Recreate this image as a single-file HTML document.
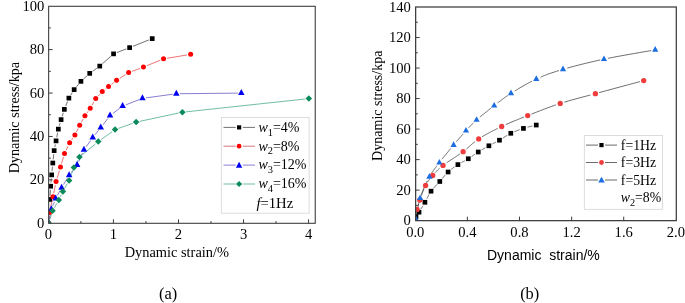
<!DOCTYPE html><html><head><meta charset="utf-8"><title>figure</title>
<style>html,body{margin:0;padding:0;background:#fff;}svg{display:block;filter:blur(0.3px);}text{font-family:"Liberation Serif", serif;fill:#000;}</style></head><body>
<svg width="685" height="303" viewBox="0 0 685 303">
<rect width="685" height="303" fill="#fff"/>
<defs><clipPath id="ca"><rect x="48.65" y="6.3" width="266.6" height="217"/></clipPath>
<clipPath id="cb"><rect x="415.65" y="7" width="260.65" height="213.65"/></clipPath></defs>
<g clip-path="url(#ca)">
<path d="M50.03 195.78 L50.41 189.81 M50.96 182.63 L51.33 178.46 M52 171.29 L52.46 166.6 M53.2 159.44 L53.77 154.2 M54.85 147.09 L55.38 144.4 M56.75 137.33 L57.65 132.66 M59.33 125.66 L60.09 123.08 M62.18 116.19 L63.26 112.8 M65.7 106.03 L67.53 101.46 M70.77 95.06 L72.25 92.68 M76.43 86.84 L78.64 84.15 M83.59 78.95 L87.05 75.79 M92.63 71.26 L96.84 68.23 M102.45 63.73 L110.87 56.26 M116.92 52.57 L126.28 48.92 M132.98 46.29 L148.89 39.95" fill="none" stroke="#111" stroke-width="0.6"/>
<path d="M48.95 219.41 L49.19 216.11 M50.23 209.01 L52.17 200.38 M53.68 193.34 L55.35 185.15 M57.12 178.18 L59.44 170.56 M61.51 163.67 L63.48 157.07 M66.05 150.37 L68.08 146.12 M71.65 139.89 L72.87 138.1 M76.48 131.89 L78.09 128.6 M81.42 122.22 L83.2 119.02 M87.01 112.92 L88.14 111.32 M91.99 105.24 L93.96 101.75 M98.19 95.99 L99.81 94.25 M105.08 89.38 L105.73 88.86 M111.38 84.41 L113.74 82.58 M119.61 78.42 L125.6 74.57 M132 71.37 L140.07 68.37 M146.77 65.75 L160.2 60.24 M167.08 58.28 L187.09 54.96" fill="none" stroke="#e01818" stroke-width="0.6"/>
<path d="M49.37 219.46 L50.63 212.76 M52.67 205.89 L54.3 201.95 M57.39 195.46 L59.87 190.88 M63.47 184.65 L67.25 178.44 M71.33 172.53 L74.95 167.86 M78.63 161.73 L82.47 153.11 M86.04 146.9 L90.62 140.54 M94.98 134.81 L98.51 130.43 M102.96 124.77 L107.85 118.47 M112.92 113.45 L119.73 108.29 M125.96 104.81 L139.09 99.68 M146.01 97.88 L172.77 94.21 M179.93 93.69 L237.7 93.15" fill="none" stroke="#3428b0" stroke-width="0.6"/>
<path d="M49.79 219.57 L51.46 214.3 M54.36 207.75 L57.03 203.14 M60.37 196.77 L61.31 194.77 M64.63 188.39 L67.34 183.65 M70.37 177.14 L72.65 171 M75.57 164.43 L77.74 160.31 M82.2 154.83 L95.47 143.91 M101.18 139.53 L112.14 131.71 M118.46 128.41 L132.77 123.33 M139.68 121.37 L178.84 112.97 M185.94 111.84 L305.26 99" fill="none" stroke="#10906a" stroke-width="0.6"/>
<rect x="47.44" y="197.02" width="4.7" height="4.7" fill="#000"/>
<rect x="48.3" y="183.87" width="4.7" height="4.7" fill="#000"/>
<rect x="49.3" y="172.52" width="4.7" height="4.7" fill="#000"/>
<rect x="50.45" y="160.67" width="4.7" height="4.7" fill="#000"/>
<rect x="51.81" y="148.27" width="4.7" height="4.7" fill="#000"/>
<rect x="53.72" y="138.52" width="4.7" height="4.7" fill="#000"/>
<rect x="55.98" y="126.77" width="4.7" height="4.7" fill="#000"/>
<rect x="58.74" y="117.27" width="4.7" height="4.7" fill="#000"/>
<rect x="62" y="107.02" width="4.7" height="4.7" fill="#000"/>
<rect x="66.52" y="95.77" width="4.7" height="4.7" fill="#000"/>
<rect x="71.8" y="87.27" width="4.7" height="4.7" fill="#000"/>
<rect x="78.58" y="79.02" width="4.7" height="4.7" fill="#000"/>
<rect x="87.36" y="71.02" width="4.7" height="4.7" fill="#000"/>
<rect x="97.41" y="63.77" width="4.7" height="4.7" fill="#000"/>
<rect x="111.21" y="51.52" width="4.7" height="4.7" fill="#000"/>
<rect x="127.28" y="45.27" width="4.7" height="4.7" fill="#000"/>
<rect x="149.88" y="36.27" width="4.7" height="4.7" fill="#000"/>
<circle cx="48.7" cy="223" r="2.5" fill="#ff0000"/>
<circle cx="49.44" cy="212.52" r="2.5" fill="#ff0000"/>
<circle cx="52.96" cy="196.87" r="2.5" fill="#ff0000"/>
<circle cx="56.07" cy="181.62" r="2.5" fill="#ff0000"/>
<circle cx="60.49" cy="167.12" r="2.5" fill="#ff0000"/>
<circle cx="64.5" cy="153.62" r="2.5" fill="#ff0000"/>
<circle cx="69.63" cy="142.87" r="2.5" fill="#ff0000"/>
<circle cx="74.9" cy="135.12" r="2.5" fill="#ff0000"/>
<circle cx="79.67" cy="125.37" r="2.5" fill="#ff0000"/>
<circle cx="84.94" cy="115.87" r="2.5" fill="#ff0000"/>
<circle cx="90.22" cy="108.37" r="2.5" fill="#ff0000"/>
<circle cx="95.74" cy="98.62" r="2.5" fill="#ff0000"/>
<circle cx="102.27" cy="91.62" r="2.5" fill="#ff0000"/>
<circle cx="108.54" cy="86.62" r="2.5" fill="#ff0000"/>
<circle cx="116.58" cy="80.37" r="2.5" fill="#ff0000"/>
<circle cx="128.63" cy="72.62" r="2.5" fill="#ff0000"/>
<circle cx="143.44" cy="67.12" r="2.5" fill="#ff0000"/>
<circle cx="163.53" cy="58.87" r="2.5" fill="#ff0000"/>
<circle cx="190.64" cy="54.37" r="2.5" fill="#ff0000"/>
<path d="M48.7 219 L51.95 225 L45.45 225 Z" fill="#0000f0"/>
<path d="M51.3 205.22 L54.55 211.22 L48.05 211.22 Z" fill="#0000f0"/>
<path d="M55.67 194.62 L58.92 200.62 L52.42 200.62 Z" fill="#0000f0"/>
<path d="M61.59 183.72 L64.84 189.72 L58.34 189.72 Z" fill="#0000f0"/>
<path d="M69.12 171.37 L72.37 177.37 L65.87 177.37 Z" fill="#0000f0"/>
<path d="M77.16 161.02 L80.41 167.02 L73.91 167.02 Z" fill="#0000f0"/>
<path d="M83.94 145.82 L87.19 151.82 L80.69 151.82 Z" fill="#0000f0"/>
<path d="M92.73 133.62 L95.98 139.62 L89.48 139.62 Z" fill="#0000f0"/>
<path d="M100.76 123.62 L104.01 129.62 L97.51 129.62 Z" fill="#0000f0"/>
<path d="M110.05 111.62 L113.3 117.62 L106.8 117.62 Z" fill="#0000f0"/>
<path d="M122.6 102.12 L125.85 108.12 L119.35 108.12 Z" fill="#0000f0"/>
<path d="M142.44 94.37 L145.69 100.37 L139.19 100.37 Z" fill="#0000f0"/>
<path d="M176.33 89.72 L179.58 95.72 L173.08 95.72 Z" fill="#0000f0"/>
<path d="M241.3 89.12 L244.55 95.12 L238.05 95.12 Z" fill="#0000f0"/>
<path d="M48.7 219.75 L51.95 223 L48.7 226.25 L45.45 223 Z" fill="#088a5a"/>
<path d="M52.55 207.62 L55.8 210.87 L52.55 214.12 L49.3 210.87 Z" fill="#088a5a"/>
<path d="M58.83 196.77 L62.08 200.02 L58.83 203.27 L55.58 200.02 Z" fill="#088a5a"/>
<path d="M62.85 188.27 L66.1 191.52 L62.85 194.77 L59.6 191.52 Z" fill="#088a5a"/>
<path d="M69.12 177.27 L72.37 180.52 L69.12 183.77 L65.87 180.52 Z" fill="#088a5a"/>
<path d="M73.9 164.37 L77.15 167.62 L73.9 170.87 L70.65 167.62 Z" fill="#088a5a"/>
<path d="M79.42 153.87 L82.67 157.12 L79.42 160.37 L76.17 157.12 Z" fill="#088a5a"/>
<path d="M98.25 138.37 L101.5 141.62 L98.25 144.87 L95 141.62 Z" fill="#088a5a"/>
<path d="M115.07 126.37 L118.32 129.62 L115.07 132.87 L111.82 129.62 Z" fill="#088a5a"/>
<path d="M136.16 118.87 L139.41 122.12 L136.16 125.37 L132.91 122.12 Z" fill="#088a5a"/>
<path d="M182.36 108.97 L185.61 112.22 L182.36 115.47 L179.11 112.22 Z" fill="#088a5a"/>
<path d="M308.84 95.37 L312.09 98.62 L308.84 101.87 L305.59 98.62 Z" fill="#088a5a"/>
</g>
<rect x="221.3" y="117.5" width="87.8" height="95.7" fill="#fff" stroke="#d4d4d4" stroke-width="0.8"/>
<path d="M223.5 127.4 H235.7 M242.8 127.4 H255" stroke="#111" stroke-width="0.6"/>
<rect x="237" y="125.3" width="4.2" height="4.2" fill="#000"/>
<text x="258.4" y="131.7" font-size="14"><tspan font-style="italic">w</tspan><tspan font-size="10.4" dy="3.9">1</tspan><tspan dy="-3.9">=4%</tspan></text>
<path d="M223.5 146.2 H235.7 M242.8 146.2 H255" stroke="#c01828" stroke-width="0.6"/>
<circle cx="239.1" cy="146.2" r="2.35" fill="#ff0000"/>
<text x="258.4" y="150.5" font-size="14"><tspan font-style="italic">w</tspan><tspan font-size="10.4" dy="3.9">2</tspan><tspan dy="-3.9">=8%</tspan></text>
<path d="M223.5 165.1 H235.7 M242.8 165.1 H255" stroke="#3428b0" stroke-width="0.6"/>
<path d="M239.1 161.76 L242.3 167.66 L235.9 167.66 Z" fill="#0000f0"/>
<text x="258.4" y="169.4" font-size="14"><tspan font-style="italic">w</tspan><tspan font-size="10.4" dy="3.9">3</tspan><tspan dy="-3.9">=12%</tspan></text>
<path d="M223.5 184 H235.7 M242.8 184 H255" stroke="#10906a" stroke-width="0.6"/>
<path d="M239.1 180.9 L242.2 184 L239.1 187.1 L236 184 Z" fill="#088a5a"/>
<text x="258.4" y="188.3" font-size="14"><tspan font-style="italic">w</tspan><tspan font-size="10.4" dy="3.9">4</tspan><tspan dy="-3.9">=16%</tspan></text>
<text x="256.4" y="207.6" font-size="14.7"><tspan font-style="italic">f</tspan>=1Hz</text>
<rect x="48.65" y="6.3" width="266.6" height="217" fill="none" stroke="#3c3c3c" stroke-width="1.08"/>
<path d="M80.88 223.3 v-2.2 M113.41 223.3 v-4 M145.94 223.3 v-2.2 M178.47 223.3 v-4 M211 223.3 v-2.2 M243.53 223.3 v-4 M276.06 223.3 v-2.2 M308.59 223.3 v-4 M48.65 201.59 h2.2 M48.65 179.88 h4 M48.65 158.17 h2.2 M48.65 136.46 h4 M48.65 114.75 h2.2 M48.65 93.04 h4 M48.65 71.33 h2.2 M48.65 49.62 h4 M48.65 27.91 h2.2" stroke="#3c3c3c" stroke-width="1" fill="none"/>
<text x="48.35" y="239.2" font-size="14.6" text-anchor="middle">0</text>
<text x="113.41" y="239.2" font-size="14.6" text-anchor="middle">1</text>
<text x="178.47" y="239.2" font-size="14.6" text-anchor="middle">2</text>
<text x="243.53" y="239.2" font-size="14.6" text-anchor="middle">3</text>
<text x="308.59" y="239.2" font-size="14.6" text-anchor="middle">4</text>
<text x="44.4" y="227.8" font-size="14.6" text-anchor="end">0</text>
<text x="44.4" y="184.38" font-size="14.6" text-anchor="end">20</text>
<text x="44.4" y="140.96" font-size="14.6" text-anchor="end">40</text>
<text x="44.4" y="97.54" font-size="14.6" text-anchor="end">60</text>
<text x="44.4" y="54.12" font-size="14.6" text-anchor="end">80</text>
<text x="44.4" y="10.7" font-size="14.6" text-anchor="end">100</text>
<text x="176.8" y="256.6" font-size="14.4" text-anchor="middle">Dynamic strain/%</text>
<text transform="translate(18.8 117.6) rotate(-90)" font-size="14.2" text-anchor="middle">Dynamic stress/kpa</text>
<text x="168.1" y="299.1" font-size="16.4" text-anchor="middle">(a)</text>
<g clip-path="url(#cb)">
<path d="M420.99 208.94 L421.24 208.53 L421.49 208.1 L421.75 207.67 L422.01 207.23 L422.28 206.79 L422.54 206.34 L422.81 205.89 M426.84 198.64 L427.07 198.16 L427.31 197.69 L427.55 197.21 L427.8 196.74 L428.04 196.26 L428.29 195.79 L428.54 195.31 L428.8 194.84 L429.06 194.37 M433.43 188.26 L433.79 187.86 L434.16 187.45 L434.53 187.05 L434.91 186.65 L435.29 186.25 L435.67 185.85 L436.05 185.46 L436.44 185.06 L436.82 184.67 L437.2 184.27 M442.21 178.65 L442.54 178.24 L442.88 177.83 L443.21 177.42 L443.55 177.01 L443.88 176.61 L444.22 176.2 L444.56 175.8 L444.9 175.4 L445.24 175 M451.23 169.32 L451.64 169 L452.05 168.69 L452.46 168.38 L452.87 168.07 L453.28 167.77 L453.7 167.47 L454.12 167.17 L454.53 166.87 M461.34 162.57 L461.78 162.33 L462.21 162.1 L462.65 161.87 L463.09 161.63 L463.53 161.4 L463.97 161.17 L464.41 160.94 L464.84 160.71 M471.62 156.55 L472.03 156.26 L472.44 155.97 L472.85 155.69 L473.26 155.4 L473.67 155.11 L474.08 154.82 L474.49 154.53 L474.9 154.24 M481.75 149.87 L482.2 149.61 L482.64 149.35 L483.09 149.09 L483.54 148.83 L483.99 148.57 L484.43 148.31 L484.88 148.06 L485.33 147.8 M492.39 143.94 L492.83 143.71 L493.26 143.49 L493.7 143.27 L494.13 143.04 L494.57 142.82 L495 142.6 L495.44 142.37 L495.88 142.14 M502.66 138.22 L503.13 137.92 L503.59 137.62 L504.06 137.32 L504.52 137.01 L504.99 136.71 L505.46 136.4 L505.94 136.1 L506.41 135.8 L506.89 135.5 L507.37 135.21 M514.39 131.68 L514.91 131.46 L515.44 131.25 L515.97 131.04 L516.5 130.83 L517.03 130.63 L517.57 130.43 L518.1 130.23 L518.64 130.04 L519.17 129.84 L519.71 129.66 M527.56 127.21 L528.18 127.04 L528.8 126.88 L529.42 126.72 L530.03 126.57 L530.64 126.42 L531.24 126.27 L531.82 126.13 L532.38 125.99" fill="none" stroke="#444" stroke-width="0.8"/>
<path d="M418.09 205.61 L418.2 205.19 L418.32 204.75 L418.44 204.31 L418.57 203.86 M421.23 196.01 L421.46 195.38 L421.69 194.74 L421.93 194.09 L422.18 193.44 L422.43 192.79 L422.68 192.13 L422.93 191.48 L423.19 190.83 L423.46 190.19 L423.72 189.55 L423.99 188.93 M427.48 182.26 L427.75 181.84 L428.03 181.42 L428.3 181.02 L428.58 180.62 L428.87 180.22 L429.16 179.83 L429.45 179.45 L429.75 179.06 L430.05 178.67 M435.17 172.67 L435.53 172.27 L435.9 171.88 L436.27 171.48 L436.65 171.08 L437.04 170.68 L437.44 170.28 L437.85 169.87 L438.28 169.46 L438.72 169.04 L439.18 168.61 L439.66 168.18 M446.63 162.77 L447.44 162.21 L448.28 161.64 L449.14 161.07 L450.02 160.49 L450.91 159.9 L451.81 159.31 L452.72 158.72 L453.63 158.12 L454.55 157.53 L455.46 156.93 L456.37 156.33 L457.27 155.74 L458.16 155.15 L459.04 154.56 L459.9 153.97 M466.52 148.97 L467.14 148.43 L467.76 147.89 L468.36 147.35 L468.95 146.82 L469.54 146.28 L470.13 145.75 L470.72 145.22 L471.31 144.69 L471.9 144.16 L472.51 143.63 L473.12 143.1 L473.74 142.58 L474.39 142.05 L475.04 141.53 M482.07 136.79 L482.96 136.26 L483.86 135.74 L484.78 135.21 L485.71 134.68 L486.65 134.15 L487.61 133.63 L488.57 133.1 L489.55 132.58 L490.54 132.06 L491.53 131.54 L492.53 131.02 L493.54 130.51 L494.55 129.99 L495.57 129.49 L496.59 128.98 L497.61 128.48 M505.78 124.61 L506.81 124.15 L507.84 123.7 L508.87 123.25 L509.9 122.8 L510.94 122.36 L511.99 121.92 L513.05 121.47 L514.11 121.03 L515.18 120.59 L516.25 120.15 L517.34 119.71 L518.44 119.27 L519.55 118.83 L520.67 118.38 L521.81 117.93 L522.96 117.47 L524.12 117.01 M531.43 114.12 L532.71 113.62 L534 113.11 L535.3 112.6 L536.62 112.08 L537.95 111.56 L539.29 111.03 L540.64 110.51 L542.01 109.98 L543.38 109.46 L544.75 108.93 L546.14 108.41 L547.53 107.89 L548.93 107.37 L550.33 106.86 L551.73 106.35 L553.14 105.85 L554.55 105.35 L555.96 104.86 M564.38 102.13 L565.76 101.72 L567.13 101.31 L568.5 100.91 L569.87 100.52 L571.25 100.13 L572.63 99.75 L574.01 99.36 L575.41 98.99 L576.81 98.61 L578.23 98.23 L579.67 97.84 L581.12 97.46 L582.6 97.07 L584.09 96.68 L585.62 96.27 L587.17 95.86 L588.74 95.44 L590.35 95.01 M599.12 92.63 L601.14 92.09 L603.25 91.51 L605.44 90.92 L607.69 90.31 L609.98 89.69 L612.32 89.06 L614.68 88.42 L617.04 87.78 L619.4 87.14 L621.75 86.51 L624.06 85.89 L626.34 85.28 L628.55 84.68 L630.69 84.1 L632.75 83.55 L634.71 83.02 L636.57 82.52 L638.29 82.06 L639.88 81.63" fill="none" stroke="#444" stroke-width="0.8"/>
<path d="M416.69 215.7 L416.81 214.87 L416.94 214 L417.07 213.09 L417.21 212.15 L417.36 211.17 L417.52 210.18 L417.68 209.17 L417.86 208.14 L418.04 207.11 L418.23 206.07 L418.43 205.03 L418.63 203.99 L418.85 202.97 L419.08 201.96 M421.34 194.51 L421.68 193.58 L422.04 192.65 L422.4 191.72 L422.78 190.78 L423.17 189.84 L423.56 188.91 L423.97 187.98 L424.38 187.05 L424.79 186.13 L425.21 185.22 L425.63 184.31 L426.05 183.42 L426.48 182.54 L426.9 181.67 L427.33 180.82 M431.37 173.49 L431.75 172.88 L432.14 172.29 L432.53 171.72 L432.91 171.15 L433.3 170.6 L433.7 170.06 L434.09 169.52 L434.49 168.98 L434.9 168.45 L435.31 167.91 L435.73 167.37 L436.15 166.83 L436.59 166.27 L437.03 165.71 M442.12 159.15 L442.7 158.41 L443.29 157.67 L443.89 156.91 L444.5 156.15 L445.11 155.39 L445.73 154.62 L446.35 153.86 L446.97 153.09 L447.6 152.32 L448.22 151.56 L448.84 150.8 L449.46 150.04 L450.08 149.3 L450.69 148.56 M456.33 141.8 L456.87 141.16 L457.4 140.53 L457.93 139.91 L458.46 139.29 L458.99 138.68 L459.51 138.07 L460.03 137.47 L460.54 136.88 L461.05 136.29 L461.56 135.71 L462.07 135.14 L462.57 134.57 L463.07 134 M468.61 127.89 L469.01 127.45 L469.41 127.02 L469.8 126.6 L470.19 126.18 L470.58 125.76 L470.97 125.35 L471.37 124.94 L471.78 124.52 L472.19 124.1 L472.61 123.68 L473.05 123.25 L473.5 122.81 M479.82 117.16 L480.53 116.57 L481.25 115.98 L481.98 115.37 L482.72 114.76 L483.48 114.14 L484.24 113.52 L485.01 112.89 L485.79 112.27 L486.57 111.64 L487.35 111.02 L488.13 110.4 L488.91 109.78 L489.69 109.17 L490.47 108.56 L491.23 107.96 M497.61 102.99 L498.26 102.48 L498.9 101.98 L499.54 101.48 L500.19 100.98 L500.83 100.48 L501.47 99.99 L502.12 99.5 L502.77 99.01 L503.44 98.52 L504.11 98.02 L504.8 97.52 L505.5 97.02 L506.22 96.52 L506.96 96.01 L507.72 95.49 M514.71 91.03 L515.69 90.42 L516.69 89.81 L517.72 89.19 L518.75 88.56 L519.8 87.93 L520.87 87.3 L521.94 86.67 L523.03 86.04 L524.13 85.41 L525.23 84.78 L526.34 84.16 L527.45 83.55 L528.56 82.94 L529.68 82.35 L530.79 81.76 L531.9 81.19 M540.5 77.17 L541.53 76.74 L542.54 76.31 L543.55 75.9 L544.57 75.49 L545.58 75.1 L546.6 74.71 L547.63 74.32 L548.67 73.94 L549.72 73.57 L550.79 73.19 L551.88 72.82 L552.99 72.45 L554.12 72.08 L555.29 71.7 L556.48 71.32 L557.71 70.94 L558.97 70.55 M567.37 68.09 L568.89 67.67 L570.43 67.24 L572.01 66.81 L573.6 66.38 L575.23 65.95 L576.88 65.52 L578.55 65.09 L580.25 64.66 L581.97 64.22 L583.71 63.79 L585.47 63.36 L587.25 62.93 L589.05 62.5 L590.86 62.07 L592.7 61.65 L594.55 61.22 L596.41 60.8 L598.29 60.39 L600.18 59.97 M608.07 58.31 L610.26 57.88 L612.54 57.44 L614.88 56.99 L617.28 56.54 L619.73 56.09 L622.21 55.64 L624.7 55.19 L627.2 54.74 L629.69 54.3 L632.16 53.86 L634.6 53.44 L636.98 53.02 L639.3 52.62 L641.55 52.23 L643.71 51.85 L645.76 51.5 L647.7 51.16 L649.51 50.85 L651.18 50.56" fill="none" stroke="#444" stroke-width="0.8"/>
<rect x="413.65" y="214.25" width="4.7" height="4.7" fill="#000"/>
<rect x="416.65" y="209.85" width="4.7" height="4.7" fill="#000"/>
<rect x="422.55" y="199.95" width="4.7" height="4.7" fill="#000"/>
<rect x="428.7" y="188.85" width="4.7" height="4.7" fill="#000"/>
<rect x="437.45" y="179.15" width="4.7" height="4.7" fill="#000"/>
<rect x="445.75" y="169.65" width="4.7" height="4.7" fill="#000"/>
<rect x="455.55" y="162.25" width="4.7" height="4.7" fill="#000"/>
<rect x="465.95" y="156.4" width="4.7" height="4.7" fill="#000"/>
<rect x="475.9" y="149.65" width="4.7" height="4.7" fill="#000"/>
<rect x="486.55" y="143.45" width="4.7" height="4.7" fill="#000"/>
<rect x="497.1" y="137.85" width="4.7" height="4.7" fill="#000"/>
<rect x="508.45" y="130.95" width="4.7" height="4.7" fill="#000"/>
<rect x="521.1" y="126.05" width="4.7" height="4.7" fill="#000"/>
<rect x="533.9" y="122.7" width="4.7" height="4.7" fill="#000"/>
<circle cx="417.1" cy="209.4" r="2.65" fill="#f03c3c"/>
<circle cx="419.8" cy="200" r="2.65" fill="#f03c3c"/>
<circle cx="425.6" cy="185.5" r="2.65" fill="#f03c3c"/>
<circle cx="432.7" cy="175.5" r="2.65" fill="#f03c3c"/>
<circle cx="443" cy="165.4" r="2.65" fill="#f03c3c"/>
<circle cx="463.1" cy="151.7" r="2.65" fill="#f03c3c"/>
<circle cx="478.7" cy="138.9" r="2.65" fill="#f03c3c"/>
<circle cx="501.7" cy="126.5" r="2.65" fill="#f03c3c"/>
<circle cx="527.7" cy="115.6" r="2.65" fill="#f03c3c"/>
<circle cx="560.2" cy="103.45" r="2.65" fill="#f03c3c"/>
<circle cx="595.4" cy="93.65" r="2.65" fill="#f03c3c"/>
<circle cx="643.7" cy="80.6" r="2.65" fill="#f03c3c"/>
<path d="M416.1 215.81 L419.2 221.41 L413 221.41 Z" fill="#1c6ee0"/>
<path d="M420.1 194.41 L423.2 200.01 L417 200.01 Z" fill="#1c6ee0"/>
<path d="M429.4 173.11 L432.5 178.71 L426.3 178.71 Z" fill="#1c6ee0"/>
<path d="M439.4 158.91 L442.5 164.51 L436.3 164.51 Z" fill="#1c6ee0"/>
<path d="M453.6 141.31 L456.7 146.91 L450.5 146.91 Z" fill="#1c6ee0"/>
<path d="M466 127.01 L469.1 132.61 L462.9 132.61 Z" fill="#1c6ee0"/>
<path d="M476.6 116.21 L479.7 121.81 L473.5 121.81 Z" fill="#1c6ee0"/>
<path d="M494.2 101.91 L497.3 107.51 L491.1 107.51 Z" fill="#1c6ee0"/>
<path d="M511 89.61 L514.1 95.21 L507.9 95.21 Z" fill="#1c6ee0"/>
<path d="M536.3 75.31 L539.4 80.91 L533.2 80.91 Z" fill="#1c6ee0"/>
<path d="M563 65.61 L566.1 71.21 L559.9 71.21 Z" fill="#1c6ee0"/>
<path d="M604 55.41 L607.1 61.01 L600.9 61.01 Z" fill="#1c6ee0"/>
<path d="M655.2 46.11 L658.3 51.71 L652.1 51.71 Z" fill="#1c6ee0"/>
</g>
<rect x="584.3" y="135.5" width="78.3" height="73.8" fill="#fff" stroke="#d4d4d4" stroke-width="0.8"/>
<path d="M586 145.1 H598 M605 145.1 H617" stroke="#444" stroke-width="0.8"/>
<rect x="599.4" y="143" width="4.2" height="4.2" fill="#000"/>
<text x="620.8" y="149.7" font-size="13.8">f=1Hz</text>
<path d="M586 162.5 H598 M605 162.5 H617" stroke="#444" stroke-width="0.8"/>
<circle cx="601.5" cy="162.5" r="2.4" fill="#f03c3c"/>
<text x="620.8" y="167.1" font-size="13.8">f=3Hz</text>
<path d="M586 180 H598 M605 180 H617" stroke="#444" stroke-width="0.8"/>
<path d="M601.5 176.8 L604.8 182.5 L598.2 182.5 Z" fill="#1c6ee0"/>
<text x="620.8" y="184.6" font-size="13.8">f=5Hz</text>
<text x="620.8" y="201.7" font-size="13.8"><tspan font-style="italic">w</tspan><tspan font-size="10.2" dy="4.1">2</tspan><tspan dy="-4.1">=8%</tspan></text>
<rect x="415.65" y="7" width="260.65" height="213.65" fill="none" stroke="#3c3c3c" stroke-width="1.25"/>
<path d="M467.37 220.65 v-4 M519.49 220.65 v-4 M571.61 220.65 v-4 M623.73 220.65 v-4 M415.65 205.39 h2.2 M415.65 190.13 h4 M415.65 174.87 h2.2 M415.65 159.61 h4 M415.65 144.35 h2.2 M415.65 129.09 h4 M415.65 113.83 h2.2 M415.65 98.56 h4 M415.65 83.3 h2.2 M415.65 68.04 h4 M415.65 52.78 h2.2 M415.65 37.52 h4 M415.65 22.26 h2.2" stroke="#3c3c3c" stroke-width="1" fill="none"/>
<text x="415.25" y="236.6" font-size="14.6" text-anchor="middle">0.0</text>
<text x="467.37" y="236.6" font-size="14.6" text-anchor="middle">0.4</text>
<text x="519.49" y="236.6" font-size="14.6" text-anchor="middle">0.8</text>
<text x="571.61" y="236.6" font-size="14.6" text-anchor="middle">1.2</text>
<text x="623.73" y="236.6" font-size="14.6" text-anchor="middle">1.6</text>
<text x="675.85" y="236.6" font-size="14.6" text-anchor="middle">2.0</text>
<text x="410.8" y="225.15" font-size="14.6" text-anchor="end">0</text>
<text x="410.8" y="194.63" font-size="14.6" text-anchor="end">20</text>
<text x="410.8" y="164.11" font-size="14.6" text-anchor="end">40</text>
<text x="410.8" y="133.59" font-size="14.6" text-anchor="end">60</text>
<text x="410.8" y="103.06" font-size="14.6" text-anchor="end">80</text>
<text x="410.8" y="72.54" font-size="14.6" text-anchor="end">100</text>
<text x="410.8" y="42.02" font-size="14.6" text-anchor="end">120</text>
<text x="410.8" y="11.5" font-size="14.6" text-anchor="end">140</text>
<text x="543.4" y="260.1" font-size="14" text-anchor="middle" style="font-family:'Liberation Sans', sans-serif;white-space:pre" xml:space="preserve">Dynamic  strain/%</text>
<text transform="translate(381.7 105.7) rotate(-90)" font-size="14.05" text-anchor="middle">Dynamic stress/kpa</text>
<text x="529.7" y="299.1" font-size="16.4" text-anchor="middle">(b)</text>
</svg></body></html>
